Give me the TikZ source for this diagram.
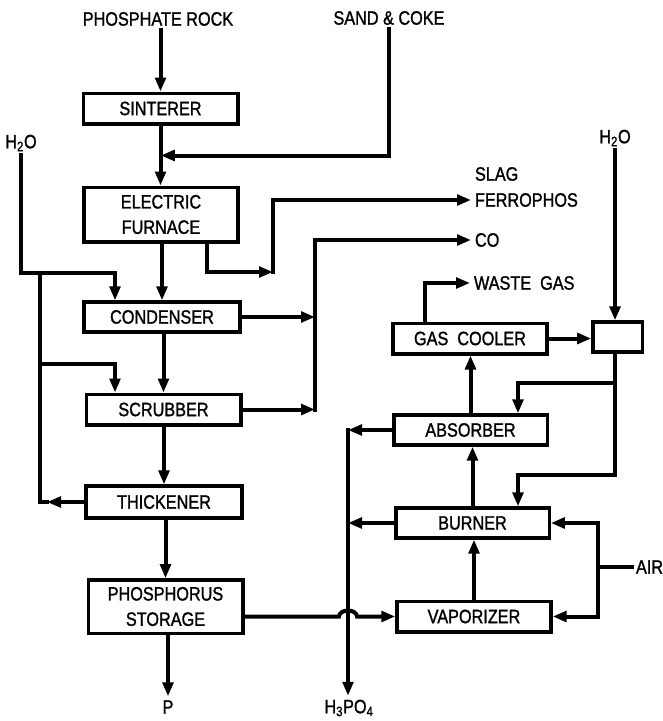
\documentclass[tikz,border=0pt]{standalone}
\usepackage{fontspec}
\setmainfont{Liberation Sans}[FakeStretch=0.84,FakeBold=1.3]
\usetikzlibrary{arrows.meta,calc}
\begin{document}
\begin{tikzpicture}[x=0.75pt,y=-0.75pt,
  box/.style={draw,line width=2.5pt,rectangle,inner sep=0pt,align=center,font=\fontsize{14.5}{19}\selectfont},
  lbl/.style={inner sep=0pt,outer sep=3pt,align=left,font=\fontsize{14.5}{19}\selectfont},
  flow/.style={line width=3pt,line cap=rect},
  arr/.style={flow,-{Triangle[length=10.5pt,width=8pt]}},
]
\useasboundingbox (0,0) rectangle (662,721);
% boxes
\node[box,minimum width=116pt,minimum height=23pt] (sinterer) at (160.5,108.5) {SINTERER};
\node[box,minimum width=115.5pt,minimum height=41pt] (furnace) at (161,214.5) {ELECTRIC\\FURNACE};
\node[box,minimum width=117pt,minimum height=22.5pt] (condenser) at (162,317) {CONDENSER};
\node[box,minimum width=116pt,minimum height=23pt] (scrubber) at (163.5,409.5) {SCRUBBER};
\node[box,minimum width=117pt,minimum height=24pt] (thickener) at (164,502) {THICKENER};
\node[box,minimum width=116pt,minimum height=40pt] (storage) at (165.5,606.5) {PHOSPHORUS\\STORAGE};
\node[box,minimum width=115.5pt,minimum height=23pt] (gascooler) at (470,338.5) {GAS\ \ COOLER};
\node[box,minimum width=37pt,minimum height=22.5pt] (smallbox) at (617.5,337) {};
\node[box,minimum width=115pt,minimum height=22.5pt] (absorber) at (470.5,430) {ABSORBER};
\node[box,minimum width=115pt,minimum height=22.5pt] (burner) at (472.5,523) {BURNER};
\node[box,minimum width=115.5pt,minimum height=23pt] (vaporizer) at (474,616.5) {VAPORIZER};
% labels
\node[lbl] (rock) at (158,19) {PHOSPHATE ROCK};
\node[lbl] (sand) at (389,18) {SAND \& COKE};
\node[lbl] (h2oL) at (21,143) {H\textsubscript{2}O};
\node[lbl] (h2oR) at (615,138) {H\textsubscript{2}O};
\node[lbl,anchor=west] (slag) at (471,174) {SLAG};
\node[lbl,anchor=west] (ferro) at (471,200) {FERROPHOS};
\node[lbl,anchor=west] (co) at (471,240) {CO};
\node[lbl,anchor=west] (waste) at (470,283) {WASTE\ \ GAS};
\node[lbl,anchor=west] (air) at (632,567) {AIR};
\node[lbl] (p) at (168,707) {P};
\node[lbl] (h3po4) at (349,708) {H\textsubscript{3}PO\textsubscript{4}};
% junction coordinates
\coordinate (jsand) at ($(sinterer.south)!0.5!(furnace.north)$);
\path (furnace.south) ++(46,0) coordinate (fs);
\coordinate (k1) at (273,272);
\coordinate (cob) at (315,409.5);
\coordinate (jl1) at (40,273);
\coordinate (cl1) at (115,273);
\coordinate (jl2) at (40,364);
\coordinate (cl2) at (115,364);
\coordinate (tl) at (40,502);
\coordinate (ta) at (47,502);
\coordinate (r1) at (615,383);
\coordinate (r2) at (615,475);
\coordinate (a1) at (518,383);
\coordinate (b1) at (518,475);
\coordinate (hv) at (348,430);
\coordinate (av) at (598,567);
\path (gascooler.north) ++(-45,0) coordinate (gw);
% main line
\draw[arr] (rock.south -| sinterer.north) -- (sinterer.north);
\draw[arr] (sinterer.south) -- (sinterer.south |- furnace.north);
\draw[arr] (sand.south) |- (jsand);
\draw[arr] (furnace.south -| condenser.north) -- (condenser.north);
\draw[arr] (condenser.south -| scrubber.north) -- (scrubber.north);
\draw[arr] (scrubber.south -| thickener.north) -- (thickener.north);
\draw[arr] (thickener.south -| storage.north) -- (storage.north);
\draw[arr] (storage.south -| p.north) -- (p.north);
% slag / ferrophos
\draw[arr] (fs) |- (k1);
\draw[arr] (k1) |- (ferro.west);
% CO
\draw[arr] (condenser.east) -- (condenser.east -| cob);
\draw[arr] (scrubber.east) -- (scrubber.east -| cob);
\draw[arr] (cob) |- (co.west);
% left water loop
\draw[flow] (h2oL.south) |- (cl1);
\draw[arr] (cl1) -- (cl1 |- condenser.north);
\draw[flow] (jl2) -- (cl2);
\draw[arr] (cl2) -- (cl2 |- scrubber.north);
\draw[arr] (thickener.west) -- (ta);
\draw[flow] (ta) -- (tl) -- (jl1);
% right side
\draw[arr] (h2oR.south) -- (h2oR.south |- smallbox.north);
\draw[arr] (gascooler.east) -- (gascooler.east -| smallbox.west);
\draw[arr] (gw) |- (waste.west);
\draw[flow] (h2oR.south |- smallbox.south) -- (r2);
\draw[arr] (r1) -- (a1) -- (a1 |- absorber.north);
\draw[arr] (r2) -- (b1) -- (b1 |- burner.north);
\draw[arr] (absorber.north) -- (absorber.north |- gascooler.south);
\draw[arr] (burner.north) -- (burner.north |- absorber.south);
\draw[arr] (vaporizer.north) -- (vaporizer.north |- burner.south);
% phosphoric acid
\draw[arr] (absorber.west) -- (absorber.west -| hv);
\draw[arr] (hv) -- (hv |- h3po4.north);
\draw[arr] (burner.west) -- (burner.west -| hv);
% storage to vaporizer with hop
\draw[arr] (storage.east |- vaporizer.west) -- ($(hv |- vaporizer.west)+(-9,0)$)
   arc[start angle=180,end angle=360,x radius=9,y radius=6] -- (vaporizer.west);
% air
\draw[flow] (air.west) -- (av);
\draw[arr] (av) |- (burner.east);
\draw[arr] (av) |- (vaporizer.east);
\end{tikzpicture}
\end{document}
